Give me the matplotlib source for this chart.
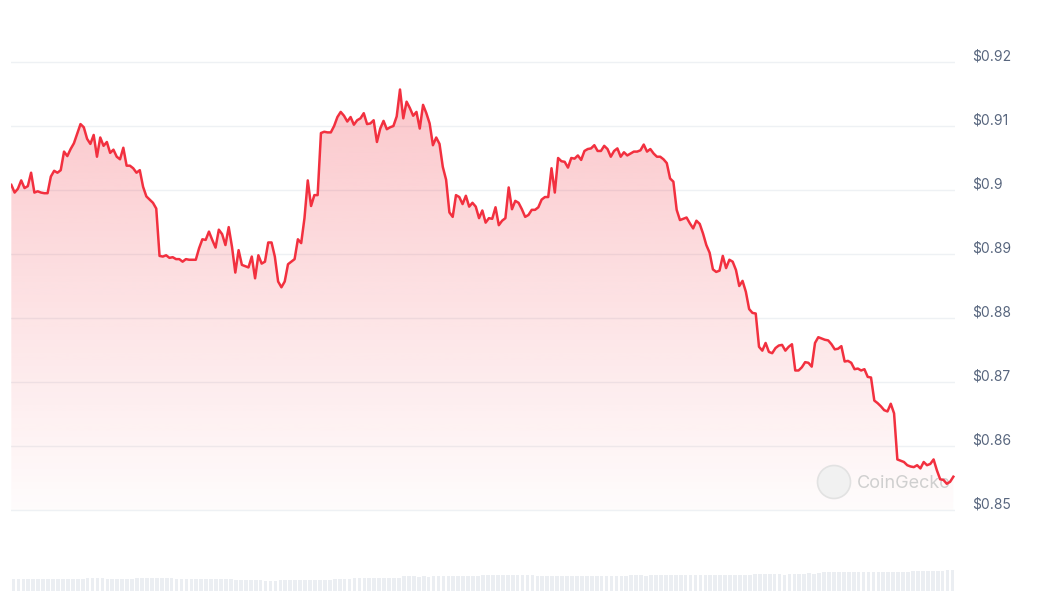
import numpy as np
import matplotlib
matplotlib.use("Agg")
import matplotlib.pyplot as plt
from matplotlib.patches import Ellipse
from matplotlib.transforms import offset_copy

# price series (left to right)
prices = [
    0.9008, 0.8996, 0.9002, 0.9015, 0.9003, 0.9006, 0.9027, 0.8996, 0.8998, 0.8996,
    0.8995, 0.8995, 0.9021, 0.9030, 0.9027, 0.9031, 0.9060, 0.9053, 0.9064, 0.9073,
    0.9088, 0.9103, 0.9098, 0.9080, 0.9072, 0.9086, 0.9052, 0.9082, 0.9069, 0.9075,
    0.9058, 0.9063, 0.9052, 0.9048, 0.9066, 0.9038, 0.9038, 0.9034, 0.9027, 0.9031,
    0.9005, 0.8990, 0.8985, 0.8980, 0.8971, 0.8897, 0.8896, 0.8898, 0.8894, 0.8895,
    0.8892, 0.8892, 0.8888, 0.8892, 0.8891, 0.8891, 0.8891, 0.8909, 0.8923, 0.8922,
    0.8935, 0.8922, 0.8910, 0.8938, 0.8931, 0.8914, 0.8942, 0.8911, 0.8871, 0.8906,
    0.8883, 0.8881, 0.8879, 0.8896, 0.8862, 0.8898, 0.8885, 0.8888, 0.8918, 0.8918,
    0.8896,
    0.8857, 0.8848, 0.8857, 0.8884, 0.8888, 0.8892, 0.8923, 0.8917, 0.8956, 0.9015,
    0.8975, 0.8992, 0.8992, 0.9089, 0.9091, 0.9090, 0.9090, 0.9100, 0.9114, 0.9122,
    0.9116, 0.9107, 0.9114, 0.9102, 0.9109, 0.9112, 0.9120, 0.9103, 0.9104, 0.9109,
    0.9075, 0.9096, 0.9108, 0.9095, 0.9098, 0.9100, 0.9115, 0.9157, 0.9112, 0.9138,
    0.9128,
    0.9116, 0.9122, 0.9096, 0.9133, 0.9120, 0.9104, 0.9070, 0.9082, 0.9072, 0.9036,
    0.9016, 0.8965, 0.8958, 0.8992, 0.8989, 0.8978, 0.8991, 0.8974, 0.8980, 0.8974,
    0.8956, 0.8968, 0.8949, 0.8956, 0.8955, 0.8973, 0.8945, 0.8952, 0.8956, 0.9004,
    0.8970, 0.8983, 0.8980, 0.8970, 0.8958, 0.8961, 0.8969, 0.8969, 0.8973, 0.8985,
    0.8989, 0.8989,
    0.9034, 0.8996, 0.9050, 0.9045, 0.9044, 0.9035, 0.9050, 0.9049, 0.9054, 0.9047,
    0.9061, 0.9064, 0.9065, 0.9070, 0.9061, 0.9061, 0.9069, 0.9064, 0.9052, 0.9061,
    0.9065, 0.9052, 0.9059, 0.9054, 0.9057, 0.9060, 0.9060, 0.9062, 0.9071, 0.9060,
    0.9064, 0.9057, 0.9052, 0.9052, 0.9048, 0.9042, 0.9018, 0.9013, 0.8969, 0.8953,
    0.8955,
    0.8957, 0.8948, 0.8940, 0.8952, 0.8947, 0.8932, 0.8914, 0.8902, 0.8876, 0.8872,
    0.8874, 0.8897, 0.8878, 0.8891, 0.8888, 0.8875, 0.8850, 0.8858, 0.8841, 0.8814,
    0.8808, 0.8807, 0.8755, 0.8749, 0.8761, 0.8747, 0.8745, 0.8753, 0.8757, 0.8758,
    0.8749, 0.8755, 0.8759, 0.8718, 0.8718, 0.8723, 0.8731, 0.8730, 0.8724, 0.8761,
    0.8770,
    0.8768, 0.8766, 0.8765, 0.8759, 0.8751, 0.8752, 0.8756, 0.8732, 0.8733, 0.8730,
    0.8720, 0.8721, 0.8718, 0.8720, 0.8708, 0.8707, 0.8671, 0.8667, 0.8662, 0.8656,
    0.8654, 0.8666, 0.8651, 0.8579, 0.8577, 0.8575, 0.8570, 0.8568, 0.8567, 0.8570,
    0.8565, 0.8575, 0.8570, 0.8572, 0.8579, 0.8562, 0.8548, 0.8547, 0.8541, 0.8544,
    0.8552,
]

tick_values = [0.85, 0.86, 0.87, 0.88, 0.89, 0.90, 0.91, 0.92]
tick_labels = ["$0.85", "$0.86", "$0.87", "$0.88", "$0.89", "$0.9", "$0.91", "$0.92"]

# navigator strip at the bottom (relative heights)
nav_values = [
    12, 12, 12, 12, 12, 12, 12, 12, 12, 12, 12, 12, 12, 12, 12,
    13.5, 13.5, 13, 13.5, 12, 12, 12, 12, 12, 12,
    13.5, 13.5, 13.5, 13.5, 13.5, 13.5, 13.5, 13.5,
    12, 12, 12, 12, 12, 12, 12, 12, 12, 12, 12, 12,
    11, 11, 11, 11, 11, 11, 10, 10, 10,
    11, 11, 11, 11, 11, 11, 11, 11, 11, 11, 11,
    12, 12, 12, 12,
    13.5, 13.5, 13.5, 13.5, 13.5, 13.5, 13.5, 13.5, 13.5, 13.5,
    15, 15, 15, 14, 15, 14.5, 15, 15, 15, 15, 15, 15, 15, 15, 15, 15,
    16.5, 16, 16, 16, 16, 16, 16, 16, 16, 16, 16,
    15, 15, 15, 15, 15, 15, 15, 15, 15, 15, 15, 15, 15, 15, 15, 15, 15, 15, 15,
    16, 16, 16, 15, 16.5,
    16, 16, 16, 16, 16, 16, 16, 16, 16, 16, 16, 16, 16, 16, 16, 16, 16, 16, 16, 16,
    17.3, 17.3, 17.3, 17.3, 17.3, 17.3, 16.5,
    17.3, 17.3, 17.3, 17.3, 18, 17.3, 18.5,
    19, 19, 19, 19, 19, 19, 19, 19, 19, 19, 19, 19, 19, 19, 19, 19, 19, 19,
    20, 20, 20, 20, 20, 20, 20.5,
    21, 21,
]

W, H = 1043, 591
line_color = "#f2303f"
label_color = "#58667e"
grid_color = "#eef1f4"

plt.rcParams["font.family"] = ["Inter", "DejaVu Sans"]

fig = plt.figure(figsize=(W / 100, H / 100), dpi=100)
fig.patch.set_facecolor("white")

# main axes: left 11px, right 955px, top 40px, bottom 530px
ax = fig.add_axes([11 / W, (H - 530) / H, 944 / W, 490 / H])
ymin, ymax = 0.85 - 20 / 6400, 0.92 + 22 / 6400
ax.set_ylim(ymin, ymax)
x = np.arange(len(prices))
ax.set_xlim(-0.1, len(prices) - 1 + 0.5)

for v in tick_values:
    ax.axhline(v, color=grid_color, lw=1.0, zorder=0)

# gradient fill under the line, fading out at the lowest gridline
base = tick_values[0]
poly = ax.fill_between(x, prices, base, color="none", lw=0)
top = max(prices)
grad = np.zeros((256, 1, 4))
r, g, b = matplotlib.colors.to_rgb(line_color)
grad[:, 0, 0], grad[:, 0, 1], grad[:, 0, 2] = r, g, b
grad[:, 0, 3] = np.linspace(0.015, 0.27, 256)
img = ax.imshow(grad, extent=[x[0], x[-1], base, top], origin="lower",
                aspect="auto", zorder=1, interpolation="bicubic")
img.set_clip_path(poly.get_paths()[0], transform=ax.transData)

ax.plot(x, prices, color=line_color, lw=1.8, zorder=3, solid_joinstyle="round")

# watermark
ax.add_patch(Ellipse((834 / W, 1 - 482 / H), 33 / W, 33 / H, transform=fig.transFigure,
                     fc="#f1f1f1", ec="#e2e2e2", lw=1.2, zorder=2))
ax.text(857 / W, 1 - 483 / H, "CoinGecko", transform=fig.transFigure, fontsize=13,
        color="#cfcfcf", va="center", ha="left", zorder=2)

lab_tr = offset_copy(ax.get_yaxis_transform(), fig=fig, x=17, y=5, units="dots")
for v, lab in zip(tick_values, tick_labels):
    ax.text(1.0, v, lab, transform=lab_tr, ha="left", va="center",
            fontsize=10, color=label_color, clip_on=False)

ax.set_xticks([])
ax.set_yticks([])
for s in ax.spines.values():
    s.set_visible(False)
ax.patch.set_alpha(0)

# navigator strip
ax2 = fig.add_axes([11 / W, 0, 944 / W, 21 / H])
ax2.bar(np.arange(len(nav_values)), nav_values, width=0.75, color="#ebeef2", lw=0)
ax2.set_xlim(-0.5, len(nav_values) - 0.5)
ax2.set_ylim(0, 21)
ax2.axis("off")

fig.savefig("out.png", dpi=100, facecolor="white")
